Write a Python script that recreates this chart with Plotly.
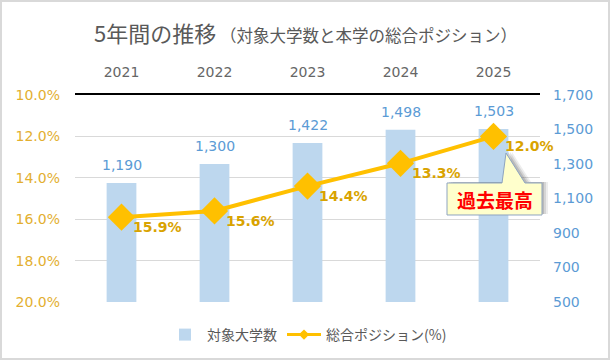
import plotly.graph_objects as go

years = ["2021", "2022", "2023", "2024", "2025"]
univ_counts = [1190, 1300, 1422, 1498, 1503]
position_pct = [15.9, 15.6, 14.4, 13.3, 12.0]

W, H = 610, 361
ML, MR, MT, MB = 75, 70, 95, 59
PW, PH = W - ML - MR, H - MT - MB

def px(x):
    return (x - ML) / PW

def py(y):
    return (H - MB - y) / PH

FONT = "DejaVu Sans, Noto Sans CJK JP, sans-serif"
JFONT = "Noto Sans CJK JP, sans-serif"
GRAY = "#595959"
BLUE = "#5B9BD5"
GOLD = "#FFC000"
GOLD_TXT = "#D9A300"
GOLD_TICK = "#E3AF30"

fig = go.Figure()
fig.add_trace(go.Bar(
    x=years, y=univ_counts, name="対象大学数", yaxis="y",
    marker=dict(color="#BDD7EE", line=dict(width=0)), width=0.32,
))
fig.add_trace(go.Scatter(
    x=years, y=position_pct, name="総合ポジション(%)", yaxis="y2",
    mode="lines+markers", showlegend=False,
    line=dict(color=GOLD, width=4),
    marker=dict(symbol="diamond", size=21, color=GOLD),
    cliponaxis=False,
))
# legend entry for the line (small marker like the original legend)
fig.add_trace(go.Scatter(
    x=[None], y=[None], name="総合ポジション(%)", yaxis="y2",
    mode="lines+markers", line=dict(color=GOLD, width=3),
    marker=dict(symbol="diamond", size=8, color=GOLD),
))

annotations = []
for i, v in enumerate(univ_counts):
    annotations.append(dict(x=i, y=v, xref="x", yref="y", text=f"{v:,}", showarrow=False,
                            xanchor="center", yanchor="bottom", yshift=8,
                            font=dict(size=14, color=BLUE, family=FONT)))
for i, v in enumerate(position_pct):
    annotations.append(dict(x=i, y=v, xref="x", yref="y2", text=f"<b>{v:.1f}%</b>", showarrow=False,
                            xanchor="left", yanchor="middle", xshift=9, yshift=-10,
                            font=dict(size=14, color=GOLD_TXT, family=FONT)))

# callout "過去最高"
bx0, bx1, by0, by1 = 447, 542, 183, 215
tip = (506, 153)
b1, b2 = 502, 525
def callout_path(dx=0, dy=0):
    pts = [(bx0, by0), (b1, by0), tip, (b2, by0), (bx1, by0), (bx1, by1), (bx0, by1)]
    return "M " + " L ".join(f"{px(x+dx):.4f},{py(y+dy):.4f}" for x, y in pts) + " Z"

shapes = [
    dict(type="rect", xref="paper", yref="paper", x0=px(1), x1=px(609), y0=py(359), y1=py(1),
         line=dict(color="#D9D9D9", width=2), fillcolor="rgba(0,0,0,0)", layer="below"),
]
for d, op in [(6, 0.10), (4, 0.15), (2, 0.2)]:
    shapes.append(dict(type="path", xref="paper", yref="paper", path=callout_path(d, -1),
                       fillcolor=f"rgba(80,80,80,{op})", line=dict(width=0)))
shapes.append(dict(type="path", xref="paper", yref="paper", path=callout_path(),
                   fillcolor="#FFFFCC", line=dict(color="#8EA4C0", width=1)))

annotations += [
    dict(xref="paper", yref="paper", x=px(92), y=py(32), xanchor="left", yanchor="middle",
         text="5年間の推移<span style='font-size:16.5px'> （対象大学数と本学の総合ポジション）</span>",
         showarrow=False, font=dict(size=22, color=GRAY, family=JFONT)),
    dict(xref="paper", yref="paper", x=px((bx0 + bx1) / 2), y=py((by0 + by1) / 2),
         text="<b>過去最高</b>", showarrow=False, xanchor="center", yanchor="middle",
         font=dict(size=19, color="#FF0000", family=JFONT)),
]

fig.update_layout(
    width=W, height=H,
    margin=dict(l=ML, r=MR, t=MT, b=MB, autoexpand=False),
    paper_bgcolor="white", plot_bgcolor="white",
    font=dict(family=FONT, color=GRAY),
    showlegend=True,
    legend=dict(orientation="h", x=0.5, xanchor="center", y=py(335), yanchor="middle",
                font=dict(size=14, color=GRAY, family=JFONT), itemwidth=34,
                traceorder="normal"),
    xaxis=dict(type="category", side="top", showline=True, linecolor="black", linewidth=1.5,
               range=[-0.5, len(years) - 0.5],
               ticks="", tickfont=dict(size=14, color="#666666"), showgrid=False,
               ticklabelstandoff=11, automargin=False),
    yaxis=dict(side="right", range=[500, 1700], tick0=500, dtick=200, tickformat=",",
               tickfont=dict(size=14, color=BLUE), showgrid=False, zeroline=False,
               showline=False, ticks="", ticklabelstandoff=12, automargin=False),
    yaxis2=dict(side="left", overlaying="y", range=[20, 10], tick0=10, dtick=2, tickformat=".1f",
                ticksuffix="%", tickfont=dict(size=14, color=GOLD_TICK),
                showgrid=True, gridcolor="#D9D9D9", gridwidth=1, zeroline=False,
                showline=False, ticks="", ticklabelstandoff=14, automargin=False),
    bargap=0.5,
    shapes=shapes,
    annotations=annotations,
)

fig.write_html("out.html", config={"displayModeBar": False},
               post_script="document.body.style.margin='0';document.body.style.overflow='hidden';")
